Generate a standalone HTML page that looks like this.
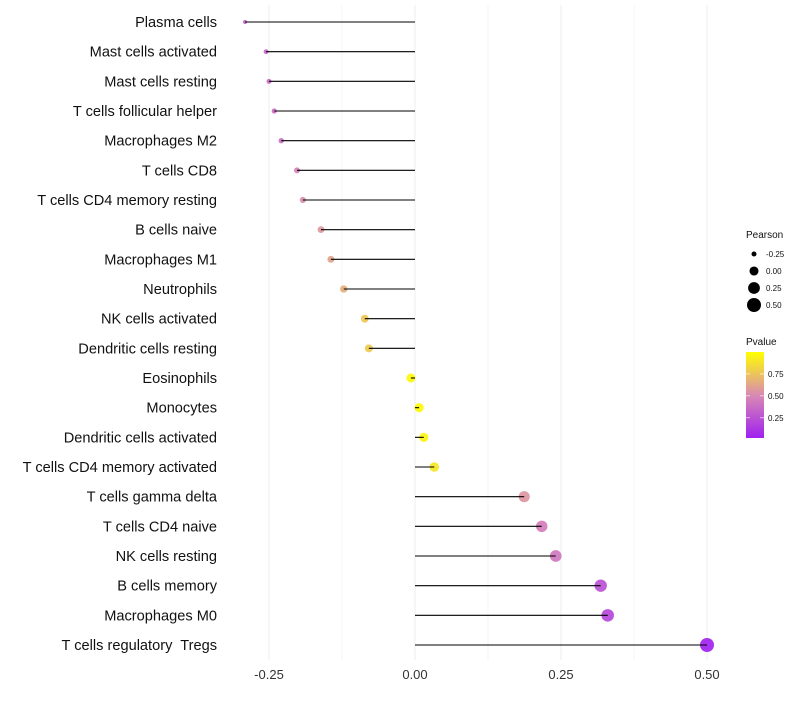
<!DOCTYPE html>
<html><head><meta charset="utf-8"><style>
body{margin:0;background:#fff;font-family:"Liberation Sans",sans-serif}
text{white-space:pre}
</style></head><body>
<svg id="chart" width="800" height="700" xmlns="http://www.w3.org/2000/svg">
<defs><linearGradient id="pg" x1="0" y1="1" x2="0" y2="0">
<stop offset="0" stop-color="#a020f0"/><stop offset="0.5" stop-color="#d98ab3"/><stop offset="1" stop-color="#ffff00"/></linearGradient></defs>
<g id="grid"></g><g id="points"></g><g id="stems"></g><g id="labels"></g><g id="legend"></g>
</svg>
<script>
const categories=["Plasma cells","Mast cells activated","Mast cells resting","T cells follicular helper","Macrophages M2","T cells CD8","T cells CD4 memory resting","B cells naive","Macrophages M1","Neutrophils","NK cells activated","Dendritic cells resting","Eosinophils","Monocytes","Dendritic cells activated","T cells CD4 memory activated","T cells gamma delta","T cells CD4 naive","NK cells resting","B cells memory","Macrophages M0","T cells regulatory  Tregs"];
const pearson=[-0.291,-0.255,-0.25,-0.241,-0.229,-0.202,-0.192,-0.161,-0.144,-0.122,-0.086,-0.079,-0.007,0.007,0.015,0.033,0.187,0.217,0.241,0.318,0.33,0.5];
const pvalue=[0.3,0.35,0.36,0.38,0.4,0.47,0.52,0.57,0.62,0.66,0.77,0.78,0.98,0.98,0.95,0.9,0.56,0.45,0.42,0.25,0.2,0.03];
const xTicks=[-0.25,0,0.25,0.5];
const xTickLabels=["-0.25","0.00","0.25","0.50"];
const sizeBreaks=[-0.25,0,0.25,0.5];
const sizeLabels=["-0.25","0.00","0.25","0.50"];
const colorBreaks=[0.25,0.5,0.75];
const colorLabels=["0.25","0.50","0.75"];

const NS="http://www.w3.org/2000/svg";
const x=v=>415+v*584;
const y=i=>22+i*(623/21);
const r=v=>Math.sqrt(Math.max(1,20.5+57*v));
function lerp(a,b,t){return a.map((c,k)=>Math.round(c+(b[k]-c)*t));}
function col(p){const lo=[160,32,240],mid=[217,138,179],hi=[255,255,0];
 const t=Math.max(0,Math.min(1,(p-0.02)/0.98));
 const c=t<0.5?lerp(lo,mid,t/0.5):lerp(mid,hi,(t-0.5)/0.5);return `rgb(${c})`;}
function mk(tag,attrs,parent,text){const e=document.createElementNS(NS,tag);for(const k in attrs)e.setAttribute(k,attrs[k]);if(text!==undefined)e.textContent=text;parent.appendChild(e);return e;}
const grid=document.getElementById('grid'),points=document.getElementById('points'),stems=document.getElementById('stems'),labels=document.getElementById('labels'),legend=document.getElementById('legend');
for(let v=-0.375;v<=0.501;v+=0.125){if(x(v)<225)continue;
 const g=mk('line',{x1:x(v),x2:x(v),y1:5,y2:660,stroke:'#efefef','stroke-width':(Math.abs(v*4-Math.round(v*4))<1e-6)?1.1:0.6},grid);
 }
xTicks.forEach((v,i)=>{const t=mk('text',{x:x(v),y:679,'text-anchor':'middle','font-size':13,fill:'#333'},labels,xTickLabels[i]);
 });
categories.forEach((c,i)=>{
 const t=mk('text',{x:217,y:y(i)+5,'text-anchor':'end','font-size':14.6,fill:'#111'},labels,c);
 
 const d=mk('circle',{cx:x(pearson[i]),cy:y(i),r:r(pearson[i]),fill:col(pvalue[i]),'fill-opacity':0.92},points);
 
 const l=mk('line',{x1:x(0),x2:x(pearson[i]),y1:y(i),y2:y(i),stroke:'#000','stroke-width':1.1},stems);
 
});
const st=mk('text',{x:746,y:238,'font-size':10,fill:'#111'},legend,'Pearson');

sizeBreaks.forEach((v,i)=>{const cy=254+i*17;
 const c=mk('circle',{cx:754,cy:cy,r:r(v),fill:'#000'},legend);
 
 const t=mk('text',{x:766,y:cy+3,'font-size':8,fill:'#111'},legend,sizeLabels[i]);
 });
const ct=mk('text',{x:746,y:345,'font-size':10,fill:'#111'},legend,'Pvalue');

const bar=mk('rect',{x:746,y:352,width:18,height:86,fill:'url(#pg)'},legend);

const cy=p=>438-(p-0.02)/0.98*86;
colorBreaks.forEach((p,i)=>{
 mk('line',{x1:746,x2:750,y1:cy(p),y2:cy(p),stroke:'#fff','stroke-width':0.6},legend);
 mk('line',{x1:760,x2:764,y1:cy(p),y2:cy(p),stroke:'#fff','stroke-width':0.6},legend);
 const t=mk('text',{x:768,y:cy(p)+3,'font-size':8,fill:'#111'},legend,colorLabels[i]);
 });
</script>
</body></html>
